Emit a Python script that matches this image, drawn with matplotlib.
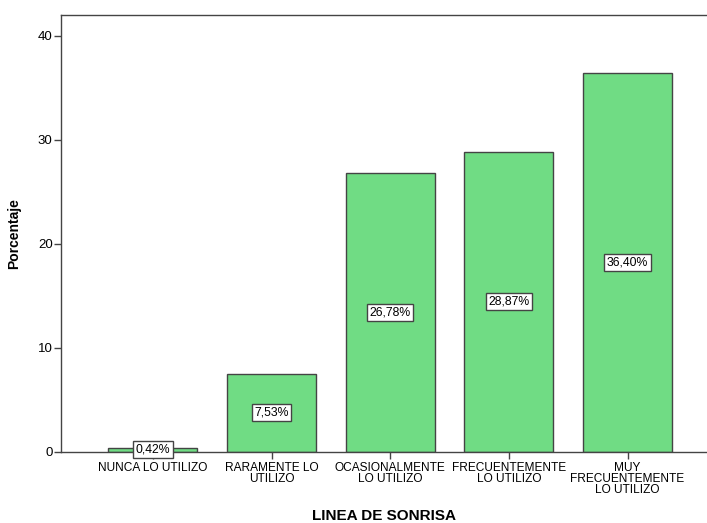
import matplotlib
matplotlib.use("Agg")
import matplotlib.pyplot as plt

categories = ["NUNCA LO UTILIZO", "RARAMENTE LO\nUTILIZO", "OCASIONALMENTE\nLO UTILIZO",
              "FRECUENTEMENTE\nLO UTILIZO", "MUY\nFRECUENTEMENTE\nLO UTILIZO"]
values = [0.42, 7.53, 26.78, 28.87, 36.40]
labels = ["0,42%", "7,53%", "26,78%", "28,87%", "36,40%"]
yticks = [0, 10, 20, 30, 40]

plt.rcParams['font.family'] = ['Liberation Sans', 'DejaVu Sans']

fig = plt.figure(figsize=(7.07, 5.23), dpi=100)
ax = fig.add_axes([61/707, 1 - 452/523, 1 - 61/707, (452 - 15)/523])

x = range(len(values))
ax.bar(x, values, width=0.75, color="#70DC84", edgecolor="#444444", linewidth=1.0, zorder=2)

for xi, v, lab in zip(x, values, labels):
    ax.text(xi, v / 2, lab, ha="center", va="center", fontsize=8.8, zorder=3,
            bbox=dict(boxstyle="square,pad=0.2", facecolor="white", edgecolor="#444444", linewidth=1.0))

ax.set_xlim(-0.775, 4.67)
ax.set_ylim(0, 42)
ax.set_yticks(yticks)
ax.set_xticks(list(x))
ax.set_xticklabels(categories, fontsize=8.6, linespacing=0.92)
ax.tick_params(axis="y", labelsize=9.5, length=5, width=1, color="#444444", pad=1)
ax.tick_params(axis="x", length=5, width=1, color="#444444", pad=2)

ax.spines["right"].set_visible(False)
for s in ["left", "top", "bottom"]:
    ax.spines[s].set_color("#444444")
    ax.spines[s].set_linewidth(1.0)

ax.set_ylabel("Porcentaje", fontsize=10, fontweight="bold", labelpad=12)
ax.set_xlabel("LINEA DE SONRISA", fontsize=11, fontweight="bold", labelpad=9)

fig.savefig("out.png", dpi=100)
